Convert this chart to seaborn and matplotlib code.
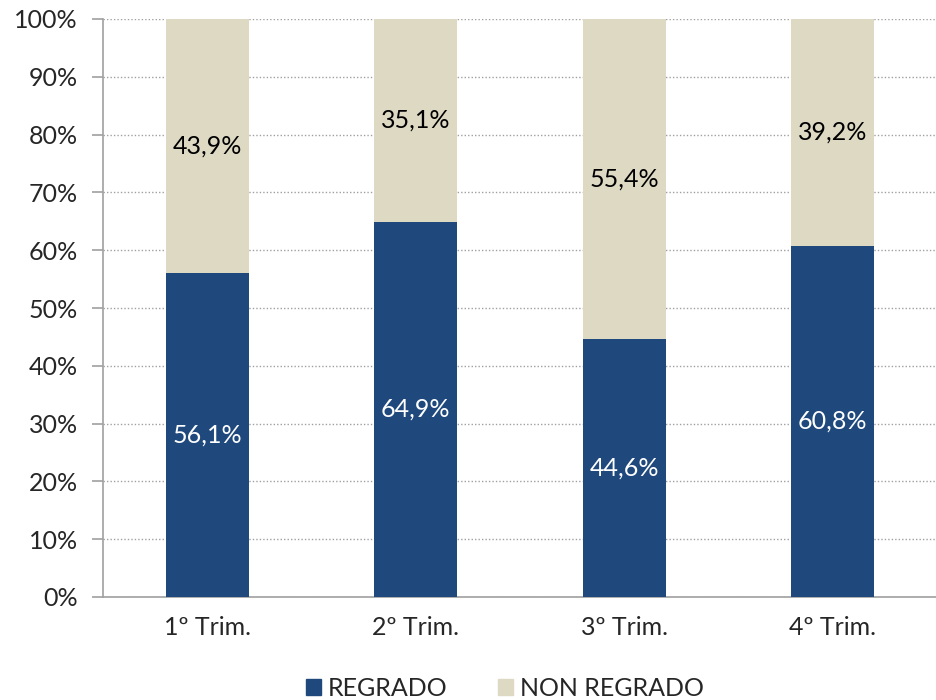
import numpy as np
import pandas as pd
import matplotlib
matplotlib.use('Agg')
import matplotlib.pyplot as plt
import seaborn as sns
from matplotlib.patches import Patch
from matplotlib.ticker import FixedLocator, PercentFormatter

# -----------------------

trimestres = ['1º Trim.', '2º Trim.', '3º Trim.', '4º Trim.']
regrado = [56.1, 64.9, 44.6, 60.8]
non_regrado = [43.9, 35.1, 55.4, 39.2]

c_reg = '#1F497D'
c_non = '#DDD9C3'
FS = 18

# -----------------------

sns.set_style('white')
plt.rcParams['font.family'] = ['Lato', 'DejaVu Sans']
plt.rcParams['font.size'] = FS

df = pd.DataFrame({'trim': trimestres, 'reg': regrado, 'non': non_regrado})
df['total'] = df['reg'] + df['non']

fig = plt.figure(figsize=(9.37, 7), dpi=100)
ax = fig.add_axes([103/937, 103/700, 834/937, 578/700])

sns.barplot(data=df, x='trim', y='total', color=c_non, width=0.4,
	saturation=1, ax=ax, zorder=2, linewidth=0)
sns.barplot(data=df, x='trim', y='reg', color=c_reg, width=0.4,
	saturation=1, ax=ax, zorder=3, linewidth=0)

for i, (r, n) in enumerate(zip(regrado, non_regrado)):
	ax.text(i, r / 2, ('%.1f%%' % r).replace('.', ','), ha='center', va='center',
		color='white', fontsize=FS, zorder=4)
	ax.text(i, r + n / 2, ('%.1f%%' % n).replace('.', ','), ha='center', va='center',
		color='black', fontsize=FS, zorder=4)

ax.set_xlim(-0.5, 3.5)
ax.set_ylim(0, 100)
ax.set_yticks(np.arange(0, 101, 10))
ax.yaxis.set_major_formatter(PercentFormatter(decimals=0))
ax.set_xlabel('')
ax.set_ylabel('')

ax.xaxis.set_minor_locator(FixedLocator(np.arange(-0.5, 4, 1)))
ax.tick_params(axis='x', which='major', length=0, pad=14, labelsize=FS)
ax.tick_params(axis='x', which='minor', length=8, color='#A0A0A0', width=1.2)
ax.tick_params(axis='y', which='major', length=8, color='#A0A0A0', width=1.2,
	pad=10, labelsize=FS, left=True)

ax.grid(axis='y', ls=(0, (1, 1.5)), color='#A0A0A0', lw=1, zorder=0)
ax.set_axisbelow(True)

for s in ['top', 'right']:
	ax.spines[s].set_visible(False)
for s in ['left', 'bottom']:
	ax.spines[s].set_color('#A0A0A0')
	ax.spines[s].set_linewidth(1.2)

handles = [Patch(color=c_reg, label='REGRADO'), Patch(color=c_non, label='NON REGRADO')]
fig.legend(handles=handles, loc='center', bbox_to_anchor=(505/937, 12/700),
	ncol=2, frameon=False, fontsize=FS, handlelength=0.6, handleheight=0.6,
	handletextpad=0.3, columnspacing=2.0)

plt.savefig('out.png', dpi=100)
